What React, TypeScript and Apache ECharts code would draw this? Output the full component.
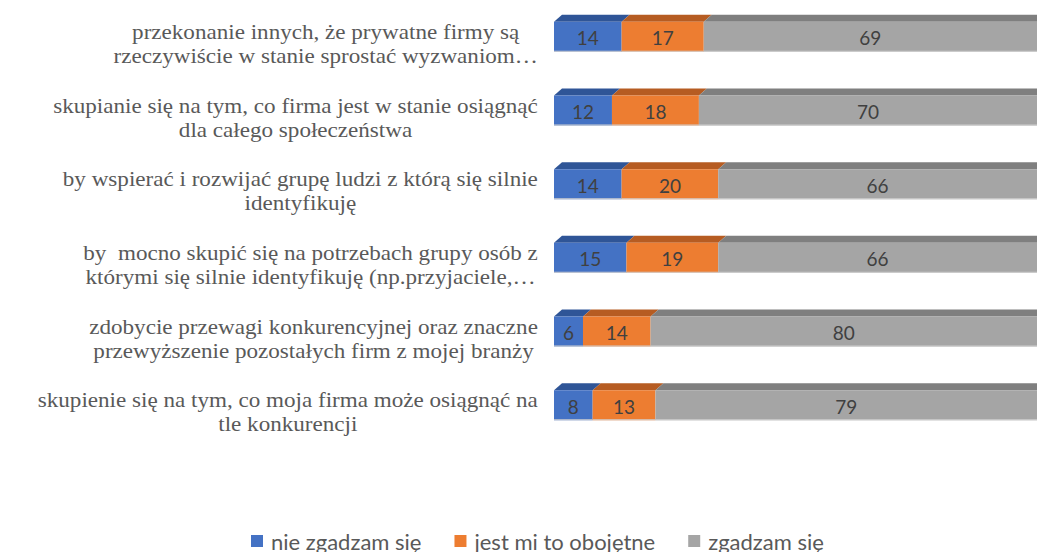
import React, { useEffect, useRef } from "react";
import * as echarts from "echarts";

const categories = [
  "przekonanie innych, że prywatne firmy są\nrzeczywiście w stanie sprostać wyzwaniom…",
  "skupianie się na tym, co firma jest w stanie osiągnąć\ndla całego społeczeństwa",
  "by wspierać i rozwijać grupę ludzi z którą się silnie\nidentyfikuję",
  "by  mocno skupić się na potrzebach grupy osób z\nktórymi się silnie identyfikuję (np.przyjaciele,…",
  "zdobycie przewagi konkurencyjnej oraz znaczne\nprzewyższenie pozostałych firm z mojej branży",
  "skupienie się na tym, co moja firma może osiągnąć na\ntle konkurencji",
];
const seriesNames = ["nie zgadzam się", "jest mi to obojętne", "zgadzam się"];
const disagree = [14, 12, 14, 15, 6, 8];
const neutral = [17, 18, 20, 19, 14, 13];
const agree = [69, 70, 66, 66, 80, 79];
const frontColors = ["#4472C4", "#ED7D31", "#A5A5A5"];
const topColors = ["#2F5597", "#B65C22", "#7F7F7F"];

const LABEL_FONT = "Liberation Serif";
const LABEL_SIZE = 21;
const LABEL_SCALE = 1.1;
const LABEL_LINE = 24;

export default function App() {
  const ref = useRef<HTMLDivElement>(null);
  useEffect(() => {
    document.body.style.margin = "0";
    const chart = echarts.init(ref.current!, null, { renderer: "svg" });
    const ctx = document.createElement("canvas").getContext("2d")!;
    ctx.font = `${LABEL_SIZE}px "${LABEL_FONT}"`;
    const blockWidths = categories.map((c) =>
      Math.max(...c.split("\n").map((l) => ctx.measureText(l).width))
    );
    const all = [disagree, neutral, agree];
    const series: any[] = all.map((vals, si) => {
      const data = vals.map((v, ci) => {
        let start = 0;
        for (let k = 0; k < si; k++) start += all[k][ci];
        return [ci, start, start + v];
      });
      return {
        name: seriesNames[si],
        type: "custom",
        itemStyle: { color: frontColors[si] },
        encode: { x: [1, 2], y: 0 },
        data,
        renderItem: (params: any, api: any) => {
          const cat = api.value(0);
          const s = api.value(1);
          const e = api.value(2);
          const p0 = api.coord([s, cat]);
          const p1 = api.coord([e, cat]);
          const h = 30;
          const y0 = p0[1] - h / 2;
          const dx = 8;
          const dy = 7;
          return {
            type: "group",
            children: [
              {
                type: "polygon",
                shape: {
                  points: [
                    [p0[0], y0],
                    [p0[0] + dx, y0 - dy],
                    [p1[0] + dx, y0 - dy],
                    [p1[0], y0],
                  ],
                },
                style: { fill: topColors[si] },
              },
              {
                type: "rect",
                shape: { x: p0[0], y: y0, width: p1[0] - p0[0], height: h },
                style: { fill: frontColors[si] },
              },
              {
                type: "rect",
                shape: { x: p0[0], y: y0 + h - 1, width: p1[0] - p0[0], height: 1 },
                style: { fill: "#d0d0d0" },
              },
              {
                type: "text",
                x: (p0[0] + p1[0]) / 2,
                y: p0[1] + 1,
                style: {
                  text: String(e - s),
                  fill: "#404040",
                  fontFamily: "Lato",
                  fontSize: 19,
                  align: "center",
                  verticalAlign: "middle",
                },
              },
            ],
          };
        },
      };
    });
    chart.setOption({
      animation: false,
      grid: { left: 554, width: 487, top: 0, height: 442 },
      xAxis: {
        type: "value",
        min: 0,
        max: 100,
        show: false,
      },
      yAxis: {
        type: "category",
        data: categories,
        inverse: true,
        axisLine: { show: false },
        axisTick: { show: false },
        splitLine: { show: false },
        axisLabel: { show: false },
      },
      legend: {
        left: 246,
        top: 525,
        itemWidth: 12,
        itemHeight: 12,
        itemGap: 33,
        icon: "rect",
        textStyle: {
          fontFamily: "Lato",
          fontSize: 22,
          color: "#595959",
          padding: [0, 0, 0, 3],
        },
        data: seriesNames,
      },
      series,
    });
    const x0 = chart.convertToPixel({ xAxisIndex: 0 }, 0) as number;
    const graphic: any[] = [];
    categories.forEach((c, ci) => {
      const y = chart.convertToPixel({ yAxisIndex: 0 }, ci) as number;
      const w = blockWidths[ci] * LABEL_SCALE;
      const cx = x0 - 16 - w / 2;
      const lines = c.split("\n");
      lines.forEach((line, li) => {
        graphic.push({
          type: "text",
          x: cx,
          y: y + 7 + (li - (lines.length - 1) / 2) * LABEL_LINE,
          scaleX: LABEL_SCALE,
          style: {
            text: line,
            fontFamily: LABEL_FONT,
            fontSize: LABEL_SIZE,
            fill: "#595959",
            align: "center",
            verticalAlign: "middle",
          },
        });
      });
    });
    chart.setOption({ graphic });
    return () => chart.dispose();
  }, []);
  return <div ref={ref} style={{ width: 1037, height: 552 }} />;
}
